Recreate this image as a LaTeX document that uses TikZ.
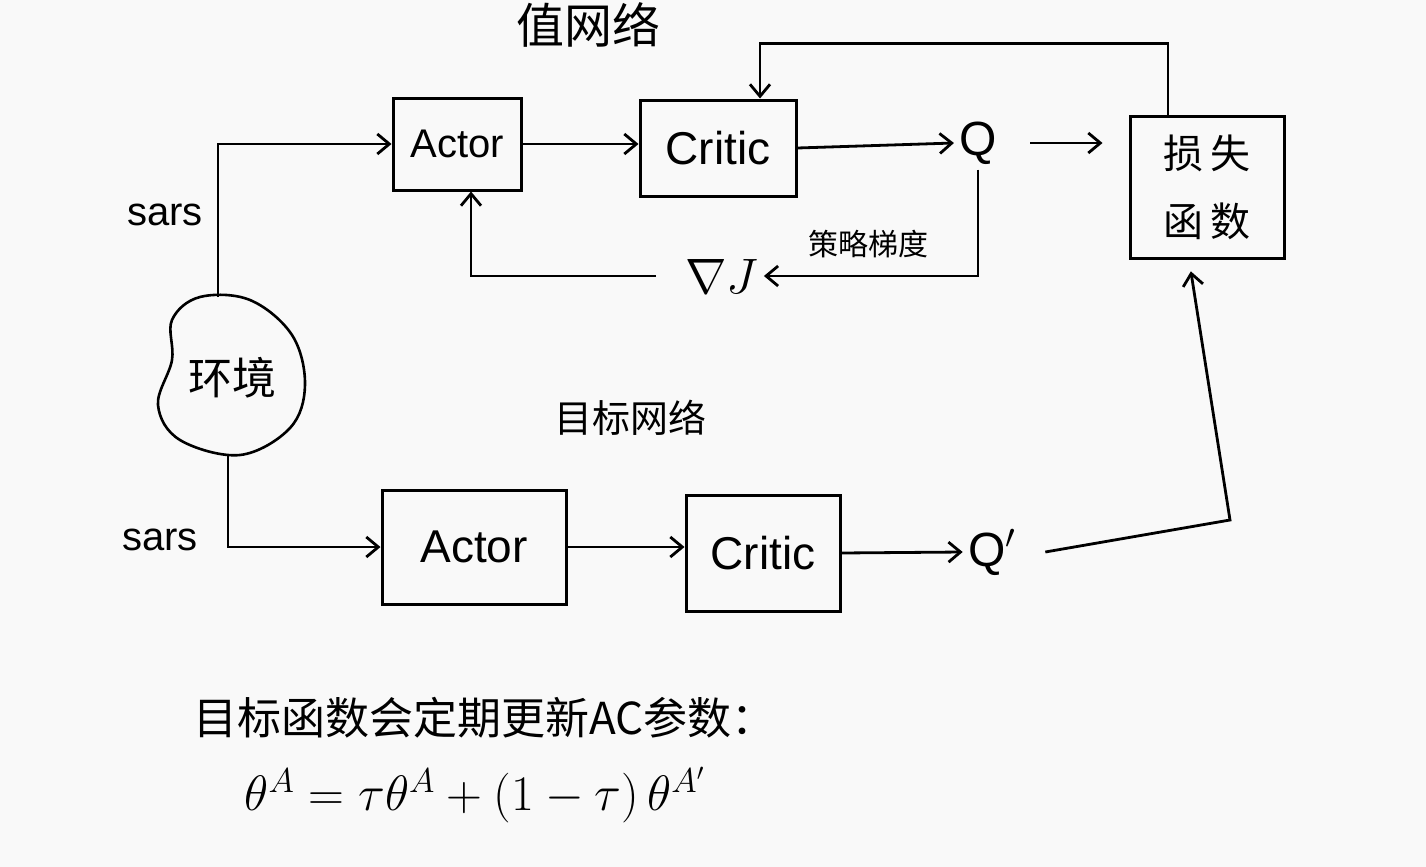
\documentclass[tikz,border=0pt]{standalone}
\usepackage{fontspec}
\setmainfont{Liberation Sans}
\newfontfamily\cjk{Noto Sans CJK SC}
\usetikzlibrary{arrows.meta}
\tikzset{
  arr/.style={-{Straight Barb[length=6pt,width=10pt]}, line width=1.4pt},
  box/.style={draw, line width=1.5pt, inner sep=0pt, font=\fontsize{23}{28}\selectfont},
  lbl/.style={inner sep=2pt, font=\fontsize{24}{28}\selectfont},
  cjklbl/.style={inner sep=2pt, font=\cjk\fontsize{20}{24}\selectfont}
}
\begin{document}
\begin{tikzpicture}[x=0.5pt,y=-0.5pt, line width=1.4pt]
\fill[gray!5] (0,0) rectangle (1426,867);
\useasboundingbox (0,0) rectangle (1426,867);

% titles
\node[cjklbl, font=\cjk\fontsize{24}{26}\selectfont] (t1) at (588,25) {值网络};
\node[cjklbl, font=\cjk\fontsize{19}{22}\selectfont] (t2) at (630,418) {目标网络};

% top row
\node[box, minimum width=64pt, minimum height=46pt, font=\fontsize{20}{24}\selectfont] (a1) at (457,144) {Actor};
\node[box, minimum width=78pt, minimum height=48pt] (c1) at (718,148) {Critic};
\node[lbl] (q1) at (978,143) {Q};
\node[box, minimum width=77pt, minimum height=71pt, align=center, font=\cjk\fontsize{20}{34}\selectfont] (loss) at (1207,187) {损\,失\\函\,数};
\node[lbl] (gj) at (722,276) {$\nabla J$};
\node[cjklbl, font=\cjk\fontsize{15}{18}\selectfont] (pg) at (868,244) {策略梯度};

% environment
\draw[line width=1.3pt] plot[smooth cycle, tension=0.6] coordinates {(200,297) (250,300) (292,335) (305,385) (290,428) (240,455) (180,440) (158,405) (172,360) (172,320)};
\node[cjklbl, font=\cjk\fontsize{22}{26}\selectfont] (env) at (232,378) {环境};
\coordinate (envtop) at (218,297);
\coordinate (envbot) at (228,454);
\node[lbl, font=\fontsize{20}{24}\selectfont] (s1) at (165,215) {sars};
\node[lbl, font=\fontsize{20}{24}\selectfont] (s2) at (160,540) {sars};

% bottom row
\node[box, minimum width=92pt, minimum height=57pt] (a2) at (474,547) {Actor};
\node[box, minimum width=77pt, minimum height=58pt] (c2) at (763,553) {Critic};
\node[lbl] (q2) at (992,552) {Q$'$};
\coordinate (qcorner) at (1230,520);

% connectors
\draw[arr] (envtop) |- (a1.west);
\draw[arr] (envbot) |- (a2.west);
\draw[arr] (a1.east) -- (a1.east -| c1.west);
\draw[arr] (c1.east) -- (q1.west);
\draw[arr] ([xshift=14pt]q1.east) -- ([xshift=-13pt]loss.west |- q1.east);
\draw[arr] ([xshift=-19.5pt]loss.north) -- ++(0,-71) -| ([xshift=21pt]c1.north);
\draw[arr] (q1.south) |- (gj.east);
\draw[arr] ([xshift=-12pt]gj.west) -| ([xshift=7pt]a1.south);
\draw[arr] (a2.east) -- (a2.east -| c2.west);
\draw[arr] (c2.east) -- (q2.west);
\draw[arr, shorten >=6pt] ([xshift=12pt]q2.east) -- (qcorner) -- ([xshift=-9pt]loss.south);

% bottom text
\node[cjklbl, anchor=west, font=\cjk\fontsize{22}{26}\selectfont] (note) at (188,718) {目标函数会定期更新AC参数：};
\node[lbl, font=\fontsize{25}{28}\selectfont] (formula) at (475,795) {$\theta^{A} = \tau\theta^{A} + (1-\tau)\,\theta^{A'}$};
\end{tikzpicture}
\end{document}
